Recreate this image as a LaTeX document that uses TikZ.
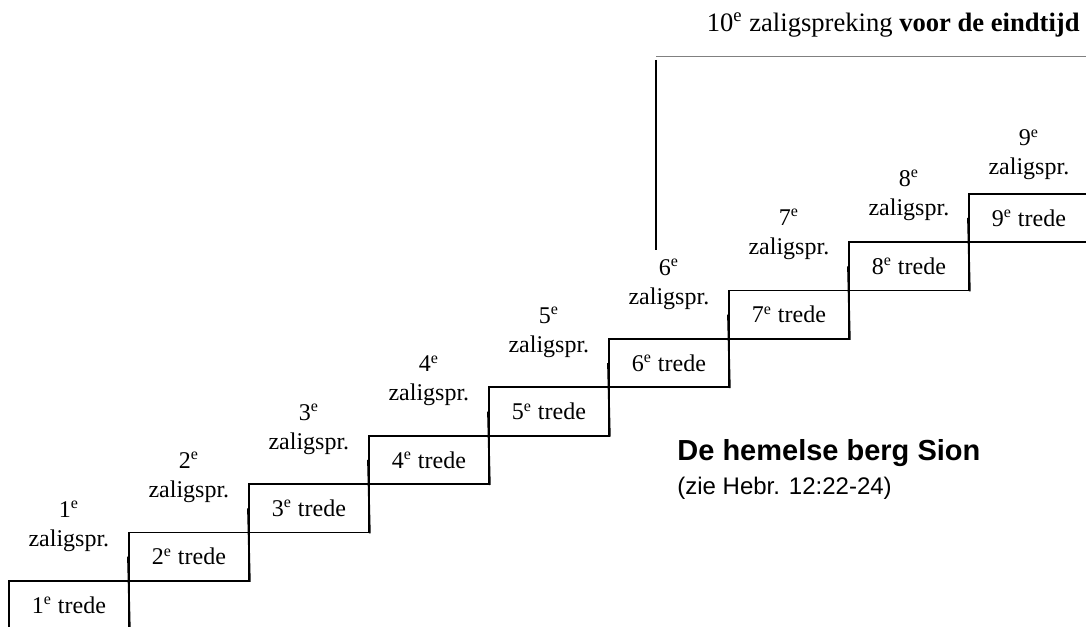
\documentclass[tikz,border=0pt]{standalone}
\usepackage{fontspec}
\setmainfont{Liberation Serif}
\setsansfont{Liberation Sans}
\usetikzlibrary{calc}
\tikzset{
  trede/.style={draw, line width=0.9pt, minimum width=60pt, minimum height=24.2pt,
    inner sep=0pt, anchor=north west, font=\fontsize{12}{14}\selectfont},
  zalig/.style={align=center, inner sep=0pt, font=\fontsize{12}{14.5}\selectfont},
  riser/.style={line width=0.9pt}
}

\begin{document}
\begin{tikzpicture}[x=0.5pt,y=-0.5pt]
\useasboundingbox (0,0) rectangle (1086,626);
\clip (0,0) rectangle (1086,626);
% de treden met hun zaligsprekingen
\foreach \i/\dy in {1/54,2/54,3/54,4/54,5/54,6/54,7/55,8/46,9/38}
{
  \node[trede] (trede\i) at ({8+120*(\i-1)},{580-48.4*(\i-1)}) {\i\textsuperscript{e} trede};
  \node[zalig] (zal\i) at ($(trede\i.north)+(0,-\dy)$) {\i\textsuperscript{e}\\zaligspr.};
}
\foreach \i [evaluate=\i as \j using int(\i+1)] in {1,...,8}
  \draw[riser] (trede\j.west) -- (trede\i.south east);
% 10e zaligspreking
\node[anchor=base east, inner sep=0pt, font=\fontsize{13.3}{16}\selectfont] (tien) at (1080,32)
  {10\textsuperscript{e} zaligspreking \textbf{voor de eindtijd}};
\coordinate (hoek) at (656,57);
\coordinate (paaltop) at (656,60);
\coordinate (paalvoet) at (656,250);
\coordinate (rand) at (1086,57);
\draw[gray, line width=0.5pt] (hoek) -- (rand);
\draw[riser] (paaltop) -- (paalvoet);
% berg Sion
\node[anchor=base west, inner sep=0pt, font=\sffamily\bfseries\fontsize{14.5}{17}\selectfont] (sion) at (677,460)
  {De hemelse berg Sion};
\node[anchor=base west, inner sep=0pt, font=\sffamily\fontsize{12}{14}\selectfont] (hebr) at (677,494)
  {(zie Hebr. 12:22-24)};
\end{tikzpicture}
\end{document}
